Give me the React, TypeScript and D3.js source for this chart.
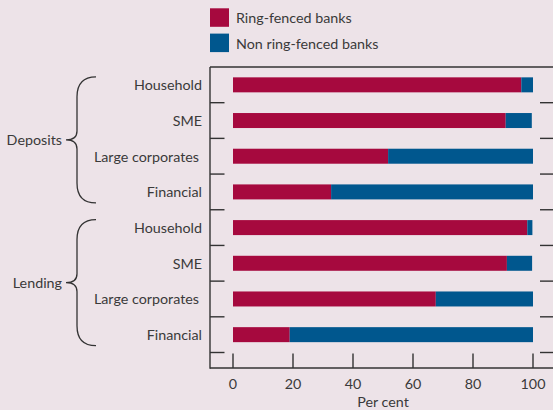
import React from "react";
import * as d3 from "d3";

const categories = [
  "Household",
  "SME",
  "Large corporates",
  "Financial",
  "Household",
  "SME",
  "Large corporates",
  "Financial",
];
const groups = [
  { label: "Deposits", start: 0, end: 3 },
  { label: "Lending", start: 4, end: 7 },
];
const ringFenced = [96.1, 90.9, 51.7, 32.7, 98.1, 91.3, 67.6, 18.9];
const nonRingFenced = [3.9, 8.7, 48.3, 67.3, 1.7, 8.4, 32.4, 81.1];
const xTicks = [0, 20, 40, 60, 80, 100];
const seriesNames = ["Ring-fenced banks", "Non ring-fenced banks"];

const W = 553;
const H = 410;
const BG = "#EDE3E8";
const RED = "#A6093E";
const BLUE = "#00578E";
const INK = "#3a3a3a";
const AXIS = "#333333";
const FONT = "Lato, 'Open Sans', sans-serif";

export default function App() {
  const frameLeft = 210;
  const frameTop = 67;
  const plotBottom = 352.5;
  const axisY = 368;

  const x = d3.scaleLinear().domain([0, 100]).range([233, 533]);
  const y = d3
    .scaleBand<number>()
    .domain(categories.map((_, i) => i))
    .range([frameTop, plotBottom])
    .paddingInner(0.58)
    .paddingOuter(0.29);
  const step = y.step();
  const bw = y.bandwidth();
  const boundaries = d3.range(1, categories.length + 1).map((i) => frameTop + i * step);

  const stack = d3.stack<number>().keys(["a", "b"]).value((i, key) =>
    key === "a" ? ringFenced[i] : nonRingFenced[i]
  );
  const stacked = stack(categories.map((_, i) => i));
  const colors = [RED, BLUE];

  const bracePath = (y0: number, y1: number) => {
    const xe = 96;
    const xs = 77;
    const xt = 66;
    const ym = (y0 + y1) / 2;
    const r = 20;
    return [
      `M${xe},${y0}`,
      `Q${xs},${y0} ${xs},${y0 + r}`,
      `L${xs},${ym - 9}`,
      `Q${xs},${ym} ${xt},${ym}`,
      `Q${xs},${ym} ${xs},${ym + 9}`,
      `L${xs},${y1 - r}`,
      `Q${xs},${y1} ${xe},${y1}`,
    ].join(" ");
  };

  return (
    <div style={{ position: "fixed", left: 0, top: 0, width: W, height: H, background: BG }}>
      <svg width={W} height={H} style={{ display: "block", fontFamily: FONT }}>
        <rect x={0} y={0} width={W} height={H} fill={BG} />

        {/* legend */}
        {seriesNames.map((name, i) => (
          <g key={name} transform={`translate(210,${8.3 + i * 25.3})`}>
            <rect x={0} y={0} width={19} height={18.5} fill={colors[i]} />
            <text x={26} y={9.5} dominantBaseline="central" fontSize={14.3} fill={INK}>
              {name}
            </text>
          </g>
        ))}

        {/* bars */}
        {stacked.map((s, si) => (
          <g key={si} fill={colors[si]}>
            {s.map((d, i) => (
              <rect
                key={i}
                x={x(d[0])}
                y={y(i)}
                width={x(d[1]) - x(d[0])}
                height={bw}
              />
            ))}
          </g>
        ))}

        {/* frame */}
        <g stroke={AXIS} strokeWidth={1.4} fill="none">
          <line x1={frameLeft} x2={frameLeft} y1={frameTop} y2={axisY + 0.7} />
          <line x1={frameLeft} x2={W} y1={frameTop} y2={frameTop} />
          <line x1={frameLeft} x2={W} y1={axisY} y2={axisY} />
          {boundaries.map((b, i) => (
            <g key={i}>
              <line x1={frameLeft} x2={224.5} y1={b} y2={b} />
              <line x1={540} x2={W} y1={b} y2={b} />
            </g>
          ))}
          {xTicks.map((t) => (
            <line key={t} x1={x(t)} x2={x(t)} y1={axisY - 14.5} y2={axisY} />
          ))}
        </g>

        {/* x tick labels */}
        {xTicks.map((t) => (
          <text
            key={t}
            x={x(t)}
            y={383}
            textAnchor="middle"
            dominantBaseline="central"
            fontSize={14.3}
            fill={INK}
          >
            {t}
          </text>
        ))}
        <text
          x={(x(0) + x(100)) / 2}
          y={401}
          textAnchor="middle"
          dominantBaseline="central"
          fontSize={14.3}
          fill={INK}
        >
          Per cent
        </text>

        {/* category labels */}
        {categories.map((c, i) => (
          <text
            key={i}
            x={c === "Large corporates" ? 199 : 202}
            y={(y(i) as number) + bw / 2}
            textAnchor="end"
            dominantBaseline="central"
            fontSize={14.3}
            fill={INK}
          >
            {c}
          </text>
        ))}

        {/* group braces and labels */}
        {groups.map((g) => {
          const y0 = (y(g.start) as number) - 0.5;
          const y1 = (y(g.end) as number) + bw + 3.5;
          const ym = (y0 + y1) / 2;
          return (
            <g key={g.label}>
              <path d={bracePath(y0, y1)} stroke={AXIS} strokeWidth={1.3} fill="none" />
              <text
                x={62}
                y={ym}
                textAnchor="end"
                dominantBaseline="central"
                fontSize={14.3}
                fill={INK}
              >
                {g.label}
              </text>
            </g>
          );
        })}
      </svg>
    </div>
  );
}
